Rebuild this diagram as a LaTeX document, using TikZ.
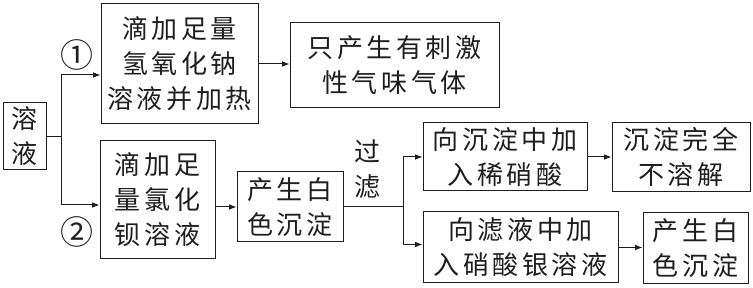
\documentclass[tikz,border=0pt]{standalone}
\usepackage{fontspec}
\newfontfamily\cjk{Noto Sans CJK SC}[LetterSpace=14]
\newfontfamily\cjknum{Noto Sans CJK SC}
\usetikzlibrary{arrows.meta}
\definecolor{lineblack}{RGB}{30,30,30}

\begin{document}
\begin{tikzpicture}[x=1pt,y=-1pt,font=\cjk\fontsize{26}{35}\selectfont,text=lineblack,
  flowbox/.style={draw=lineblack,line width=1pt,inner sep=0pt,align=center},
  flowline/.style={draw=lineblack,line width=1pt},
  flowarrow/.style={flowline,-{Latex[length=2.6mm,width=2mm]}}]
\useasboundingbox (0,0) rectangle (753,288);

% boxes
\node[flowbox,minimum width=43pt,minimum height=67pt] (sol) at (24.5,136.5) {溶\\液};
\node[flowbox,minimum width=157pt,minimum height=120pt] (A) at (179.5,64) {滴加足量\\氢氧化钠\\溶液并加热};
\node[flowbox,minimum width=209pt,minimum height=85pt] (B) at (394.5,65.5) {只产生有刺激\\性气味气体};
\node[flowbox,minimum width=115pt,minimum height=118pt] (C) at (157.5,200) {滴加足\\量氯化\\钡溶液};
\node[flowbox,minimum width=106pt,minimum height=70pt] (D) at (290,207) {产生白\\色沉淀};
\node[flowbox,minimum width=164pt,minimum height=68pt] (E) at (505,157) {向沉淀中加\\入稀硝酸};
\node[flowbox,minimum width=138pt,minimum height=69pt] (F) at (681,157.5) {沉淀完全\\不溶解};
\node[flowbox,minimum width=195pt,minimum height=71pt] (G) at (520.5,247.5) {向滤液中加\\入硝酸银溶液};
\node[flowbox,minimum width=105pt,minimum height=71pt] (H) at (695.5,248.5) {产生白\\色沉淀};

% labels
\node[font=\cjknum\fontsize{33}{36}\selectfont] (n1) at (77,55) {①};
\node[font=\cjknum\fontsize{33}{36}\selectfont] (n2) at (77,232) {②};
\node[align=center] (filt) at (367,169.5) {过\\滤};

% connectors
\coordinate (fork1) at (61,136.5);
\draw[flowline] (sol.east) -- (fork1);
\draw[flowarrow] (fork1) |- ([yshift=-11pt]A.west);
\draw[flowarrow] (fork1) |- ([yshift=-5pt]C.west);
\draw[flowarrow] (A.east) -- (A.east -| B.west);
\draw[flowarrow] (C.east |- D.west) -- (D.west);

\coordinate (fork2) at (403,207);
\draw[flowline] (D.east) -- (fork2);
\draw[flowarrow] (fork2) |- (E.west);
\draw[flowarrow] (fork2) |- ([yshift=3pt]G.west);
\draw[flowarrow] (E.east) -- (E.east -| F.west);
\draw[flowarrow] (G.east) -- (G.east -| H.west);
\end{tikzpicture}
\end{document}
